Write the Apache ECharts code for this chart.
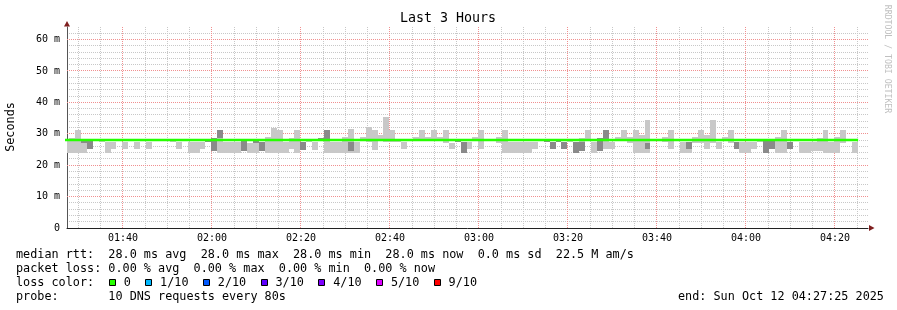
<!DOCTYPE html>
<html><head><meta charset="utf-8">
<script src="https://cdn.jsdelivr.net/npm/echarts@6/dist/echarts.min.js"></script>
<style>html,body{margin:0;padding:0;background:#fff}#c{width:897px;height:310px}</style>
</head><body><div id="c"></div>
<script>
// ---------------- data ----------------
const chartTitle = 'Last 3 Hours';
const timeStart = '01:27:25';
const timeEnd = '04:27:25';
const firstStepStart = '01:26:32';
const stepSeconds = 80;
const xTickLabels = ['01:40','02:00','02:20','02:40','03:00','03:20','03:40','04:00','04:20'];
const yTickValues = [0,10,20,30,40,50,60];
const yTickLabels = ['0','10 m','20 m','30 m','40 m','50 m','60 m'];
const yMax = 64;

// smoke (light) band per 80 s step, ms
const smokeLo = [
  24,24,24,24,25,null,27.5,24,25,null,25,
  null,25,null,25,null,null,null,27.5,25,null,
  24,24,25,27.4,24.6,24,24,24,24,24.6,
  24,24,24.6,24,24,24,24,25,24,24.9,
  27.4,24.9,28,24,24,24,24,24,24,28,
  27.4,24.9,28,27.4,27.4,27.4,25,null,28,28,
  28,28,28,27.1,25,27.4,24,25,28,25,
  null,null,27.1,24,24,24,24,24,25,null,
  27.4,25,27.4,25,27.4,24,24.4,28,24,24.5,
  25,25,28,28,27.1,24,24,24,null,null,
  27.4,25,null,24,24,27.1,27.1,25,27.1,25,
  28,27.1,25,24,24,25,27.4,24,25,24,
  24,25,null,24,24,24.5,24.5,24,24,24,
  27.1,null,24
];
const smokeHi = [
  28,28.6,31.1,28,27.7,null,28,27.5,27.5,null,27.5,
  null,27.5,null,27.5,null,null,null,28,27.5,null,
  27.5,27.5,27.5,28,28.6,31.1,27.4,27.4,27.4,27.6,
  27.2,27.6,27.5,28.9,32.0,31.1,27.4,28.6,31.1,27.4,
  28,27.4,28.8,31.1,27.4,27.4,28.9,31.5,27.4,28.9,
  32.1,31.1,29.6,35.2,31.1,28,27.4,null,28.9,31.1,
  28.9,31.1,28.9,31.1,27.1,28,27.4,27.4,28.9,31.1,
  null,null,28.9,31.1,27.4,27.4,27.4,27.4,27.4,null,
  28,27.4,28,27.4,28,27.4,28.6,31.1,27.4,28.6,
  31.1,27.4,28.9,31.1,28.9,31.1,29.6,34.3,null,null,
  28.9,31.1,null,27.4,27.4,28.9,31.1,29.6,34.3,27.4,
  28.9,31.1,27.4,27.4,27.4,27.4,28,27.7,27.7,28.9,
  31.1,27.4,null,27.4,27.4,27.4,28.6,31.1,27.4,28.9,
  31.1,null,27.4
];
// inner (dark) smoke band, ms
const darkLo = [
  null,null,null,27.0,25,null,null,null,null,null,null,
  null,null,null,null,null,null,null,null,null,null,
  null,null,null,27.4,24.6,28.6,null,null,null,24.6,
  null,27.0,24.6,null,null,null,null,null,null,24.9,
  null,null,28,28,null,null,null,24.6,null,null,
  null,null,null,null,null,null,null,null,null,null,
  null,null,null,null,null,27.4,24,null,null,null,
  null,null,null,null,null,null,null,null,null,null,
  27.4,25,27.4,25,null,24,24.4,null,null,24.5,
  28,null,null,null,null,null,null,25,null,null,
  null,null,null,null,25,null,null,null,null,null,
  null,null,25,null,null,null,null,24,25,null,
  null,25,null,null,null,null,null,null,null,null,
  null,null,null
];
const darkHi = [
  null,null,null,27.7,27.7,null,null,null,null,null,null,
  null,null,null,null,null,null,null,null,null,null,
  null,null,null,28,28.6,31.1,null,null,null,27.6,
  null,27.6,27.5,null,null,null,null,null,null,27.4,
  null,null,28.8,31.1,null,null,null,27.4,null,null,
  null,null,null,null,null,null,null,null,null,null,
  null,null,null,null,null,28,27.4,null,null,null,
  null,null,null,null,null,null,null,null,null,null,
  28,27.4,28,27.4,null,27.4,27.4,null,null,28.6,
  31.1,null,null,null,null,null,null,27.1,null,null,
  null,null,null,null,27.4,null,null,null,null,null,
  null,null,27.4,null,null,null,null,27.7,27.7,null,
  null,27.4,null,null,null,null,null,null,null,null,
  null,null,null
];
const medianRtt = [
  28,28,28,28,28,28,28,28,28,28,28,
  28,28,28,28,28,28,28,28,28,28,
  28,28,28,28,28,28,28,28,28,28,
  28,28,28,28,28,28,28,28,28,28,
  28,28,28,28,28,28,28,28,28,28,
  28,28,28,28,28,28,28,28,28,28,
  28,28,28,28,28,28,28,28,28,28,
  28,28,28,28,28,28,28,28,28,28,
  28,28,28,28,28,28,28,28,28,28,
  28,28,28,28,28,28,28,28,28,28,
  28,28,28,28,28,28,28,28,28,28,
  28,28,28,28,28,28,28,28,28,28,
  28,28,28,28,28,28,28,28,28,28,
  28,28,28
];
const legendLines = [
  'median rtt:  28.0 ms avg  28.0 ms max  28.0 ms min  28.0 ms now  0.0 ms sd  22.5 M am/s',
  'packet loss: 0.00 % avg  0.00 % max  0.00 % min  0.00 % now',
  'loss color:',
  'probe:       10 DNS requests every 80s'
];
const lossLabels = ['0','1/10','2/10','3/10','4/10','5/10','9/10'];
const lossColors = ['#26ff00','#00b8ff','#0059ff','#5e00ff','#7e00ff','#dd00ff','#ff0000'];
const endText = 'end: Sun Oct 12 04:27:25 2025';
const watermark = 'RRDTOOL / TOBI OETIKER';
const yName = 'Seconds';

// ---------------- build ----------------
const toMin = s => { const p = s.split(':').map(Number); return p[0]*60 + p[1] + (p[2]||0)/60; };
const xMin = toMin(timeStart), xMax = toMin(timeEnd);
const stepMin = stepSeconds/60;
const t0 = toMin(firstStepStart);
const stepTimes = smokeLo.map((_, i) => t0 + i*stepMin);
const xTickValues = xTickLabels.map(toMin);
const minorX = [];
for (let m = Math.ceil(xMin/5)*5; m <= xMax; m += 5) if (m % 20 !== 0) minorX.push(m);
const minorY = [];
for (let v = 2; v < yMax; v += 2) if (v % 10 !== 0) minorY.push(v);
const majorY = yTickValues.filter(v => v > 0);

const FONT = '"DejaVu Sans Mono", monospace';
const LIGHT = '#c8c8c8', DARK = '#8a8a8a';
const MINOR_GRID = '#c8c8c8', MAJOR_GRID = '#f09090';

function bandData(lo, hi) {
  const out = [];
  lo.forEach((v, i) => { if (v != null && hi[i] != null) out.push([stepTimes[i], stepTimes[i]+stepMin, v, hi[i]]); });
  return out;
}
function rectRender(color) {
  return function(params, api) {
    const a = api.coord([api.value(0), api.value(3)]);
    const b = api.coord([api.value(1), api.value(2)]);
    const x0 = Math.round(a[0]), x1 = Math.round(b[0]);
    const y0 = Math.round(a[1]), y1 = Math.round(b[1]);
    return {type:'rect', shape:{x:x0, y:y0, width:x1-x0, height:Math.max(1, y1-y0)}, style:{fill:color}};
  };
}
// grid lines drawn through the axis scales
function vGridRender(color) {
  return function(params, api) {
    const cs = params.coordSys;
    const p = api.coord([api.value(0), 0]);
    const x = Math.floor(p[0]) + 0.5;
    return {type:'line', shape:{x1:x, y1:cs.y, x2:x, y2:cs.y + cs.height}, style:{stroke:color, lineWidth:1, lineDash:[1,1]}};
  };
}
function hGridRender(color) {
  return function(params, api) {
    const cs = params.coordSys;
    const p = api.coord([xMin, api.value(0)]);
    const y = Math.floor(p[1]) + 0.5;
    return {type:'line', shape:{x1:cs.x, y1:y, x2:cs.x + cs.width, y2:y}, style:{stroke:color, lineWidth:1, lineDash:[1,1]}};
  };
}
const medianData = stepTimes.map((t, i) => [t, medianRtt[i]]);
medianData.push([stepTimes[stepTimes.length-1] + stepMin, medianRtt[medianRtt.length-1]]);

const graphics = [
  {type:'text', x:448, y:19, style:{text:chartTitle, font:'13.3px ' + FONT, fill:'#000', align:'center', verticalAlign:'middle', textAlign:'center', textVerticalAlign:'middle'}},
  {type:'text', x:11, y:127, rotation:Math.PI/2, style:{text:yName, font:'11.8px ' + FONT, fill:'#000', align:'center', verticalAlign:'middle', textAlign:'center', textVerticalAlign:'middle'}},
  {type:'text', x:887, y:59, rotation:-Math.PI/2, style:{text:watermark, font:'8.2px ' + FONT, fill:'#c0c0c0', align:'center', verticalAlign:'middle', textAlign:'center', textVerticalAlign:'middle'}},
  {type:'polygon', z:100, shape:{points:[[64,26.5],[70,26.5],[67,21]]}, style:{fill:'#7f1f1f'}},
  {type:'polygon', z:100, shape:{points:[[869,225],[869,231],[874.5,228]]}, style:{fill:'#7f1f1f'}},
  {type:'text', x:678, y:296.5, style:{text:endText, font:'11.8px ' + FONT, fill:'#000', align:'left', verticalAlign:'middle', textAlign:'left', textVerticalAlign:'middle'}}
];
const rowY = [254.5, 268.5, 282.5, 296.5];
legendLines.forEach((line, i) => {
  graphics.push({type:'text', x:16, y:rowY[i], style:{text:line, font:'11.8px ' + FONT, fill:'#000', align:'left', verticalAlign:'middle', textAlign:'left', textVerticalAlign:'middle'}});
});
let bx = 108.7;
lossLabels.forEach((lab, i) => {
  graphics.push({type:'rect', shape:{x:Math.round(bx)+0.5, y:279.5, width:6, height:6}, style:{fill:lossColors[i], stroke:'#000', lineWidth:1}});
  graphics.push({type:'text', x:bx+15, y:rowY[2], style:{text:lab, font:'11.8px ' + FONT, fill:'#000', align:'left', verticalAlign:'middle', textAlign:'left', textVerticalAlign:'middle'}});
  bx += 15 + lab.length*7.1 + 14.3;
});

const chart = echarts.init(document.getElementById('c'), null, {renderer:'canvas'});
chart.setOption({
  animation:false,
  backgroundColor:'#fff',
  grid:{left:67, top:27, right:29, bottom:82, containLabel:false},
  xAxis:{type:'value', min:xMin, max:xMax, position:'bottom',
     axisLine:{show:true, onZero:false, lineStyle:{color:'#222', width:1}},
     axisTick:{show:false, customValues:xTickValues},
     axisLabel:{show:true, customValues:xTickValues, margin:5, fontFamily:'DejaVu Sans Mono', fontSize:10, color:'#000',
       formatter:v => { const i = xTickValues.findIndex(t => Math.abs(t - v) < 1e-6); return i >= 0 ? xTickLabels[i] : ''; }},
     splitLine:{show:false}},
  yAxis:{type:'value', min:0, max:yMax, position:'left',
     axisLine:{show:true, onZero:false, lineStyle:{color:'#555', width:1}},
     axisTick:{show:false, customValues:yTickValues},
     axisLabel:{show:true, customValues:yTickValues, margin:7, fontFamily:'DejaVu Sans Mono', fontSize:10, color:'#000',
       formatter:v => { const i = yTickValues.indexOf(v); return i >= 0 ? yTickLabels[i] : ''; }},
     splitLine:{show:false}},
  series:[
    {type:'custom', name:'minor x grid', silent:true, z:0, data:minorX.map(v => [v]), encode:{x:0}, renderItem:vGridRender(MINOR_GRID)},
    {type:'custom', name:'minor y grid', silent:true, z:0, data:minorY.map(v => [v]), encode:{y:0}, renderItem:hGridRender(MINOR_GRID)},
    {type:'custom', name:'major x grid', silent:true, z:1, data:xTickValues.map(v => [v]), encode:{x:0}, renderItem:vGridRender(MAJOR_GRID)},
    {type:'custom', name:'major y grid', silent:true, z:1, data:majorY.map(v => [v]), encode:{y:0}, renderItem:hGridRender(MAJOR_GRID)},
    {type:'custom', name:'smoke', clip:true, silent:true,
     data:bandData(smokeLo, smokeHi), encode:{x:[0,1], y:[2,3]}, renderItem:rectRender(LIGHT), z:2},
    {type:'custom', name:'smoke inner', clip:true, silent:true,
     data:bandData(darkLo, darkHi), encode:{x:[0,1], y:[2,3]}, renderItem:rectRender(DARK), z:3},
    {type:'line', name:'median rtt', step:'start', clip:true, silent:true,
     data:medianData, symbol:'none', lineStyle:{color:'#26ff00', width:2.5}, z:4}
  ],
  graphic:graphics
});
</script></body></html>
